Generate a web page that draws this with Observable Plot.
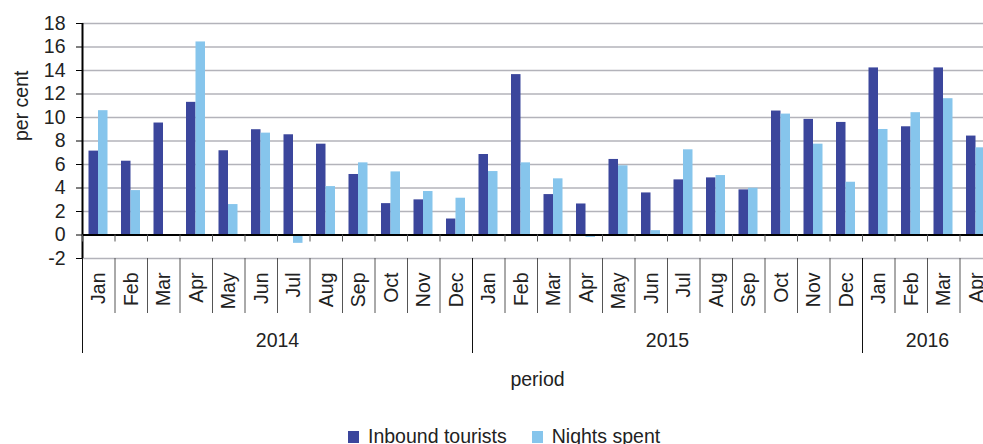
<!DOCTYPE html>
<html>
<head>
<meta charset="utf-8">
<script src="https://cdn.jsdelivr.net/npm/d3@7"></script>
<script src="https://cdn.jsdelivr.net/npm/@observablehq/plot@0.6"></script>
<style>
  html, body { margin: 0; padding: 0; background: #fff; overflow: hidden; }
  #chart svg { display: block; max-width: none !important; }
  .legend { display: flex; align-items: center; margin-left: 348px; font-family: 'Liberation Sans', Arial, sans-serif; font-size: 19.5px; color: #222; line-height: normal; }
  .legend .sw { width: 11px; height: 12px; display: inline-block; margin-right: 9px; }
  .legend .item { display: flex; align-items: center; margin-right: 25px; }
</style>
</head>
<body>
<div id="chart"></div>
<div class="legend" id="legend"></div>
<script>
// ---- data ----
const periodMonth = ["Jan","Feb","Mar","Apr","May","Jun","Jul","Aug","Sep","Oct","Nov","Dec",
                     "Jan","Feb","Mar","Apr","May","Jun","Jul","Aug","Sep","Oct","Nov","Dec",
                     "Jan","Feb","Mar","Apr"];
const yearLabels = ["2014", "2015", "2016"];
const yearMonthCounts = [12, 12, 4];
const seriesNames = ["Inbound tourists", "Nights spent"];
const inbound = [7.14, 6.28, 9.53, 11.29, 7.17, 8.96, 8.53, 7.73, 5.15, 2.67, 2.99, 1.36,
                 6.85, 13.65, 3.44, 2.64, 6.43, 3.58, 4.69, 4.86, 3.84, 10.55, 9.84, 9.58,
                 14.22, 9.21, 14.22, 8.42];
const nights = [10.58, 3.78, -0.1, 16.43, 2.59, 8.67, -0.71, 4.12, 6.14, 5.37, 3.70, 3.13,
                5.40, 6.14, 4.78, -0.2, 5.89, 0.37, 7.25, 5.06, 3.98, 10.29, 7.73, 4.49,
                8.98, 10.41, 11.60, 7.42];
const yTicks = [-2, 0, 2, 4, 6, 8, 10, 12, 14, 16, 18];
const colors = ["#3B469C", "#86C5EC"];

// ---- derived tables ----
const rows = periodMonth.map((m, i) => ({i, j: i + 1, mid: i + 0.5, month: m, inbound: inbound[i], nights: nights[i]}));
const monthBounds = d3.range(periodMonth.length + 1);
let acc = 0;
const yearRows = yearLabels.map((y, k) => {
  const start = acc; acc += yearMonthCounts[k];
  return {year: y, start, end: acc, mid: (start + acc) / 2};
});
const yearBounds = yearRows.map(d => d.start).concat([acc]);

const chart = Plot.plot({
  width: 992,
  height: 425,
  marginLeft: 82,
  marginRight: 0,
  marginTop: 23,
  marginBottom: 167,
  style: {fontFamily: "'Liberation Sans', Arial, sans-serif", fontSize: "19.5px", color: "#222", background: "white"},
  x: {domain: [0, periodMonth.length], axis: null},
  y: {domain: [-2, 18], axis: null},
  marks: [
    Plot.ruleY(yTicks, {stroke: "#b3b3ba", strokeWidth: 1.6}),
    Plot.rect(rows, {x1: "i", x2: "j", y1: 0, y2: "inbound", fill: colors[0], insetLeft: 6.5, insetRight: 16.5}),
    Plot.rect(rows, {x1: "i", x2: "j", y1: 0, y2: "nights", fill: colors[1], insetLeft: 16, insetRight: 7}),
    Plot.ruleY([0], {stroke: "#000", strokeWidth: 2}),
    Plot.ruleX([0], {y1: -2, y2: 18, stroke: "#000", strokeWidth: 2}),
    Plot.axisY(yTicks, {tickSize: 6, tickPadding: 11, label: null, stroke: "#000", tickFormat: d => String(d)}),
    Plot.ruleX(monthBounds, {x: d => d, y1: 0, y2: 0, insetBottom: -7, stroke: "#555"}),
    Plot.axisX(monthBounds, {tickSize: 55, tickFormat: () => "", label: null, stroke: "#555"}),
    Plot.axisX(yearBounds, {tickSize: 95, tickFormat: () => "", label: null, stroke: "#111"}),
    Plot.text(rows, {x: "mid", y: -2, dy: 14, text: "month", rotate: -90, textAnchor: "end", fill: "#222"}),
    Plot.text(yearRows, {x: "mid", y: -2, dy: 82, text: "year", fill: "#222"}),
    Plot.text(["period"], {frameAnchor: "bottom", dy: 127, fill: "#222"}),
    Plot.text(["per cent"], {frameAnchor: "left", dx: -61, rotate: -90, fill: "#222"})
  ]
});
chart.style.maxWidth = "none";
document.getElementById("chart").appendChild(chart);

const legend = document.getElementById("legend");
seriesNames.forEach((name, k) => {
  const item = document.createElement("span");
  item.className = "item";
  const sw = document.createElement("span");
  sw.className = "sw";
  sw.style.background = colors[k];
  item.appendChild(sw);
  item.appendChild(document.createTextNode(name));
  legend.appendChild(item);
});
</script>
</body>
</html>
